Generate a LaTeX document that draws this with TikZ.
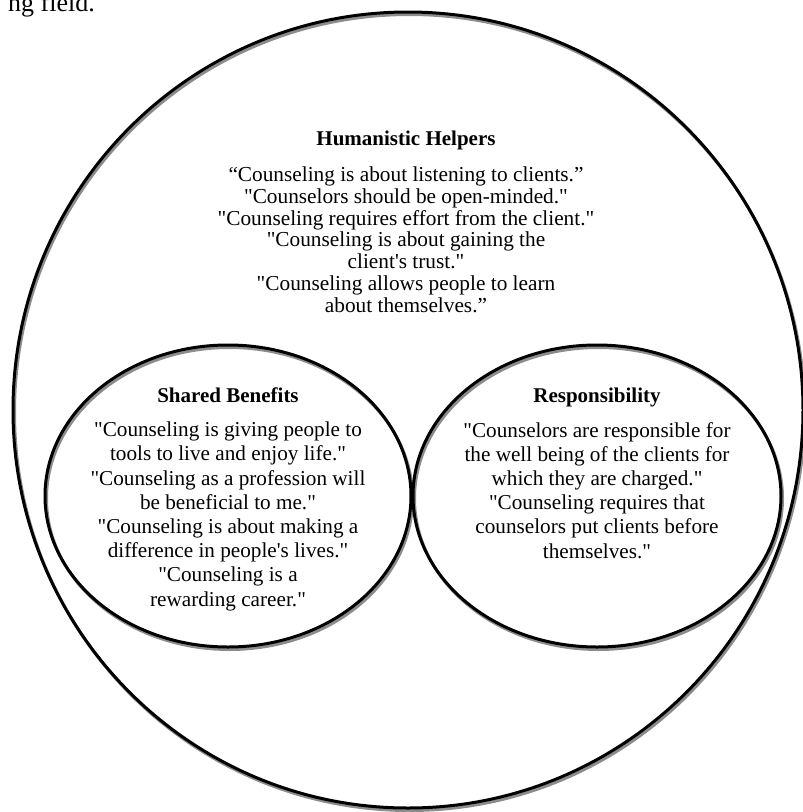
\documentclass[tikz,border=0pt]{standalone}
\usepackage{fontspec}
\setmainfont{Liberation Serif}[Ligatures=TeXOff]
\begin{document}
\begin{tikzpicture}[x=1pt, y=-1pt,
    rim/.style={line width=3pt},
    shadowline/.style={line width=3pt, draw=black!45},
    heading/.style={font=\fontsize{21}{24}\selectfont\bfseries, inner sep=0pt, anchor=base},
    saying/.style={align=center, inner sep=0pt, anchor=base, font=\fontsize{21.2}{24.2}\selectfont},
    topsaying/.style={saying, font=\fontsize{21.3}{21.7}\selectfont}]
    \useasboundingbox (0,0) rectangle (803,812);

    % Cut-off text line
    \node[inner sep=0pt, anchor=base east, font=\fontsize{26}{30}\selectfont] (cut) at (95,11) {ng field.};

    % Outer circle
    \draw[shadowline] (409.5,412.5) ellipse (395 and 398);
    \draw[rim] (408,410) ellipse (395 and 398);

    % Inner circles
    \draw[shadowline] (229.5,498.5) ellipse (183 and 151);
    \draw[rim] (228,496) ellipse (183 and 151);
    \draw[shadowline] (598.5,498.5) ellipse (184 and 151);
    \draw[rim] (597,496) ellipse (184 and 151);

    % Humanistic helpers (base = last line)
    \node[heading] (hh) at (406,145) {Humanistic Helpers};
    \node[topsaying] (hhText) at (406,312) {“Counseling is about listening to clients.”\\
        "Counselors should be open-minded."\\
        "Counseling requires effort from the client."\\
        "Counseling is about gaining the\\
        client's trust."\\
        "Counseling allows people to learn\\
        about themselves.”};

    % Shared benefits
    \node[heading] (sb) at (228,402) {Shared Benefits};
    \node[saying] (sbText) at (228,606) {"Counseling is giving people to\\
        tools to live and enjoy life."\\
        "Counseling as a profession will\\
        be beneficial to me."\\
        "Counseling is about making a\\
        difference in people's lives."\\
        "Counseling is a\\
        rewarding career."};

    % Responsibility
    \node[heading] (resp) at (597,402) {Responsibility};
    \node[saying] (respText) at (597,558) {"Counselors are responsible for\\
        the well being of the clients for\\
        which they are charged."\\
        "Counseling requires that\\
        counselors put clients before\\
        themselves."};
\end{tikzpicture}
\end{document}
